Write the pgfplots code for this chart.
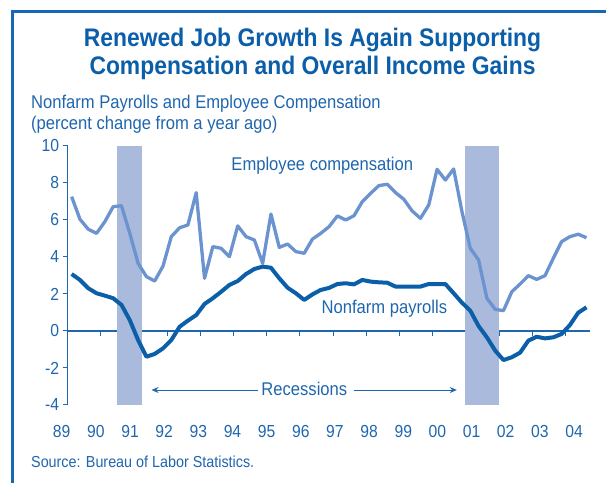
\documentclass[border=0pt]{standalone}
\usepackage{fontspec}
\setmainfont{Liberation Sans}[FakeStretch=0.9]
\usepackage{pgfplots}
\pgfplotsset{compat=1.18}
\usepackage{pgfplotstable}
\usetikzlibrary{arrows.meta}
\definecolor{titleblue}{HTML}{0B5EA8}
\definecolor{textblue}{HTML}{1F66AE}
\definecolor{complight}{HTML}{6B93CF}
\definecolor{paydark}{HTML}{0A5FA8}
\definecolor{shadeblue}{HTML}{AABADD}
\definecolor{frameblue}{HTML}{1767B4}
\tikzset{yl/.style={textblue, anchor=base, inner sep=0pt, font=\fontsize{17.5}{20}\selectfont}}

\pgfplotstableread{
x comp pay
1989.125 7.26 3.08
1989.375 6.04 2.76
1989.625 5.50 2.31
1989.875 5.28 2.04
1990.125 5.91 1.91
1990.375 6.72 1.77
1990.625 6.77 1.41
1990.875 5.28 0.59
1991.125 3.66 -0.49
1991.375 2.94 -1.39
1991.625 2.70 -1.24
1991.875 3.51 -0.94
1992.125 5.10 -0.49
1992.375 5.58 0.23
1992.625 5.73 0.56
1992.875 7.48 0.86
1993.125 2.85 1.46
1993.375 4.56 1.77
1993.625 4.47 2.12
1993.875 4.02 2.49
1994.125 5.68 2.70
1994.375 5.10 3.08
1994.625 4.92 3.35
1994.875 3.66 3.48
1995.125 6.32 3.42
1995.375 4.52 2.85
1995.625 4.70 2.34
1995.875 4.29 2.04
1996.125 4.20 1.68
1996.375 4.97 1.98
1996.625 5.28 2.22
1996.875 5.64 2.33
1997.125 6.22 2.54
1997.375 6.00 2.58
1997.625 6.23 2.52
1997.875 6.99 2.76
1998.125 7.44 2.67
1998.375 7.86 2.63
1998.625 7.93 2.61
1998.875 7.48 2.40
1999.125 7.12 2.40
1999.375 6.49 2.40
1999.625 6.09 2.40
1999.875 6.81 2.54
2000.125 8.74 2.54
2000.375 8.16 2.54
2000.625 8.76 2.04
2000.875 6.45 1.53
2001.125 4.47 1.10
2001.375 3.84 0.27
2001.625 1.77 -0.34
2001.875 1.17 -1.06
2002.125 1.10 -1.57
2002.375 2.12 -1.42
2002.625 2.54 -1.17
2002.875 2.99 -0.52
2003.125 2.79 -0.31
2003.375 2.99 -0.40
2003.625 3.93 -0.34
2003.875 4.83 -0.16
2004.125 5.10 0.32
2004.375 5.23 0.99
2004.625 5.04 1.28
}\data

\begin{document}
\begin{tikzpicture}[x=1bp,y=1bp]
\useasboundingbox (0,0) rectangle (606,483);
\draw[frameblue, line width=3bp] (12,0) -- (12,471) -- (606,471);
\node[titleblue, anchor=base, inner sep=0pt, font=\bfseries\fontsize{25.5}{28}\selectfont] at (312.5,436) {Renewed Job Growth Is Again Supporting};
\node[titleblue, anchor=base, inner sep=0pt, font=\bfseries\fontsize{25.5}{28}\selectfont] at (312.5,408) {Compensation and Overall Income Gains};
\node[textblue, anchor=base west, inner sep=0pt, font=\fontsize{18.5}{20}\selectfont] at (31,374) {Nonfarm Payrolls and Employee Compensation};
\node[textblue, anchor=base west, inner sep=0pt, font=\fontsize{18.5}{20}\selectfont] at (31,353) {(percent change from a year ago)};
\node[textblue, anchor=base west, inner sep=0pt, font=\fontsize{16}{18}\selectfont] at (31,15) {Source: Bureau of Labor Statistics.};
\begin{axis}[
  at={(67.5bp,78bp)}, anchor=south west,
  scale only axis, width=522.5bp, height=259bp,
  xmin=1989, xmax=2004.73, ymin=-4, ymax=10,
  axis x line=middle, axis y line=left,
  axis line style={-, textblue, line width=1.2bp},
  hide obscured x ticks=false, hide obscured y ticks=false,
  xtick={1989,...,2004},
  xticklabels={},
  ytick={-4,-2,...,10},
  yticklabels={-4,-2,0,2,4,6,8,10},
  tick align=outside,
  major tick length=5bp,
  tick style={textblue, line width=1bp},
  tick label style={textblue, font=\fontsize{17.5}{20}\selectfont},
  clip=false,
]
\addplot[fill=shadeblue, draw=none] coordinates {(1990.49,-4) (1990.49,10) (1991.23,10) (1991.23,-4)} -- cycle;
\addplot[fill=shadeblue, draw=none] coordinates {(2000.96,-4) (2000.96,10) (2001.98,10) (2001.98,-4)} -- cycle;
\addplot[complight, line width=3.3bp, line join=round] table[x=x,y=comp]{\data};
\addplot[paydark, line width=4bp, line join=round] table[x=x,y=pay]{\data};
\node[textblue, anchor=base, inner sep=0pt, font=\fontsize{18.5}{20}\selectfont] at (axis cs:1996.67,8.66) {Employee compensation};
\node[textblue, anchor=base, inner sep=0pt, font=\fontsize{18.5}{20}\selectfont] at (axis cs:1998.54,0.92) {Nonfarm payrolls};
\node[textblue, anchor=base, inner sep=0pt, font=\fontsize{18.5}{20}\selectfont] at (axis cs:1996.13,-3.5) {Recessions};
\draw[-{Stealth[length=7bp,width=6bp]}, textblue, line width=1bp] (axis cs:1994.72,-3.19) -- (axis cs:1991.53,-3.19);
\draw[-{Stealth[length=7bp,width=6bp]}, textblue, line width=1bp] (axis cs:1997.63,-3.19) -- (axis cs:2000.72,-3.19);
\node[yl] at (axis cs:1988.826,-5.73) {89};
\node[yl] at (axis cs:1989.854,-5.73) {90};
\node[yl] at (axis cs:1990.882,-5.73) {91};
\node[yl] at (axis cs:1991.911,-5.73) {92};
\node[yl] at (axis cs:1992.939,-5.73) {93};
\node[yl] at (axis cs:1993.967,-5.73) {94};
\node[yl] at (axis cs:1994.995,-5.73) {95};
\node[yl] at (axis cs:1996.023,-5.73) {96};
\node[yl] at (axis cs:1997.051,-5.73) {97};
\node[yl] at (axis cs:1998.080,-5.73) {98};
\node[yl] at (axis cs:1999.108,-5.73) {99};
\node[yl] at (axis cs:2000.136,-5.73) {00};
\node[yl] at (axis cs:2001.164,-5.73) {01};
\node[yl] at (axis cs:2002.192,-5.73) {02};
\node[yl] at (axis cs:2003.220,-5.73) {03};
\node[yl] at (axis cs:2004.249,-5.73) {04};
\end{axis}
\end{tikzpicture}
\end{document}
